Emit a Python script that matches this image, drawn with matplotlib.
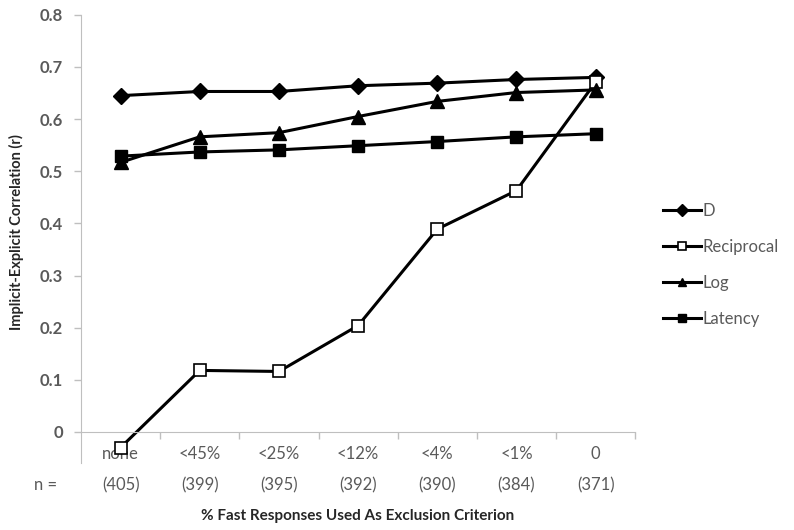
import numpy as np
import matplotlib
matplotlib.use('Agg')
import matplotlib.pyplot as plt
from matplotlib.ticker import FixedLocator

plt.rcParams['font.family'] = ['Lato', 'DejaVu Sans']

categories = ['none', '<45%', '<25%', '<12%', '<4%', '<1%', '0']
n_values = ['(405)', '(399)', '(395)', '(392)', '(390)', '(384)', '(371)']

d_vals = [0.645, 0.653, 0.653, 0.664, 0.669, 0.676, 0.680]
recip_vals = [-0.030, 0.118, 0.116, 0.204, 0.389, 0.463, 0.671]
log_vals = [0.517, 0.566, 0.574, 0.605, 0.634, 0.651, 0.656]
latency_vals = [0.529, 0.537, 0.541, 0.549, 0.557, 0.566, 0.572]

gray = '#5a5a5a'
axis_gray = '#bfbfbf'

fig = plt.figure(figsize=(7.94, 5.30), dpi=100)
ax = fig.add_axes([0.102, 0.126, 0.698, 0.846])

x = np.arange(len(categories)) + 0.5

ax.plot(x, d_vals, color='black', lw=2.2, marker='D', ms=8, label='D')
ax.plot(x, recip_vals, color='black', lw=2.2, marker='s', ms=9,
        markerfacecolor='white', markeredgewidth=1.2, label='Reciprocal')
ax.plot(x, log_vals, color='black', lw=2.2, marker='^', ms=10, label='Log')
ax.plot(x, latency_vals, color='black', lw=2.2, marker='s', ms=9, label='Latency')

ax.set_xlim(0, len(categories))
ax.set_ylim(-0.06, 0.8)
ax.set_yticks(np.arange(0, 0.81, 0.1))
ax.set_yticklabels(['0'] + ['%.1f' % v for v in np.arange(0.1, 0.81, 0.1)])

ax.spines['top'].set_visible(False)
ax.spines['right'].set_visible(False)
ax.spines['left'].set_color(axis_gray)
ax.spines['bottom'].set_color(axis_gray)
ax.spines['bottom'].set_position(('data', 0))

ax.set_xticks(x)
ax.set_xticklabels([c + '\n' + n for c, n in zip(categories, n_values)])
ax.xaxis.set_minor_locator(FixedLocator(np.arange(1, len(categories) + 1)))
ax.tick_params(axis='x', which='major', length=0, pad=10, labelsize=12, labelcolor=gray)
ax.tick_params(axis='x', which='minor', length=5, width=1, color=axis_gray, direction='out')
ax.tick_params(axis='y', length=5, width=1, color=axis_gray, labelsize=12,
               labelcolor=gray, pad=8)
for lab in ax.get_yticklabels():
    lab.set_fontweight('bold')
for lab in ax.get_xticklabels():
    lab.set_linespacing(2.2)

fig.text(0.057, 1 - 485 / 530, 'n =', fontsize=12, color=gray, ha='center', va='center')

fig.text(358 / 794, 1 - 516 / 530, '% Fast Responses Used As Exclusion Criterion',
         fontsize=11, fontweight='bold', color='#262626', ha='center', va='center')
fig.text(16 / 794, 1 - 232 / 530, 'Implicit-Explicit Correlation (r)', rotation=90,
         fontsize=10.5, fontweight='bold', color='#262626', ha='center', va='center')

leg = fig.legend(loc='center left', bbox_to_anchor=(0.835, 0.5), frameon=False,
                 fontsize=12, handlelength=2.3, labelspacing=1.2, handletextpad=0.1,
                 borderpad=0, borderaxespad=0)
for t in leg.get_texts():
    t.set_color(gray)
for h in leg.legend_handles:
    h.set_markersize(6)

fig.savefig('out.png', dpi=100)
